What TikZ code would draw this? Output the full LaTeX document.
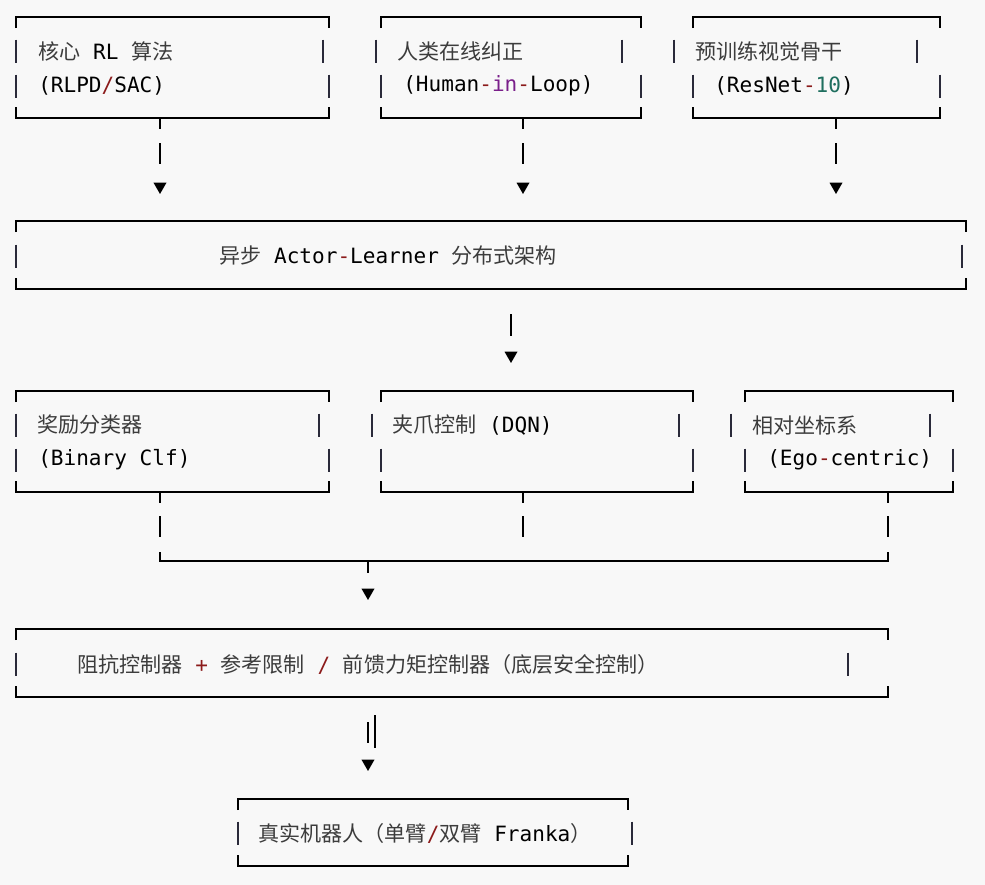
\documentclass[tikz,border=0pt]{standalone}
\usepackage{fontspec}
\setmonofont{DejaVu Sans Mono}
\newfontfamily\cjk{Noto Sans CJK SC}
\usetikzlibrary{arrows.meta,calc,fit}

\definecolor{paper}{HTML}{F8F8F8}
\definecolor{hanzi}{HTML}{3C3C3C}
\definecolor{opred}{HTML}{8B1A1A}
\definecolor{kwpurple}{HTML}{7A1F8A}
\definecolor{numteal}{HTML}{1F6F5F}
\definecolor{bar}{HTML}{2A2A3A}

\newcommand{\zh}[1]{{\cjk\color{hanzi}#1}}
\newcommand{\op}[1]{\textcolor{opred}{#1}}
\newcommand{\kw}[1]{\textcolor{kwpurple}{#1}}
\newcommand{\digits}[1]{\textcolor{numteal}{#1}}

% frame of an ascii box: top and bottom rule with short corner ticks
\newcommand{\asciiframe}[1]{%
  \draw[rim] ($(#1.north west)+(0,11)$) -- (#1.north west) -- (#1.north east) -- ($(#1.north east)+(0,11)$);
  \draw[rim] ($(#1.south west)+(0,-11)$) -- (#1.south west) -- (#1.south east) -- ($(#1.south east)+(0,-11)$);
}

\tikzset{
  area/.style={inner sep=0pt, outer sep=0pt},
  rim/.style={line width=1.6pt},
  side/.style={line width=1pt, draw=bar},
  txt/.style={anchor=west, inner sep=0pt, font=\fontsize{15.8}{19}\selectfont\ttfamily},
  tip/.style={-{Triangle[width=9.5pt,length=8.5pt]}},
  drop/.style={line width=1pt, tip, dash pattern=on 8.25pt off 10.5pt on 15.75pt off 60pt},
  stub/.style={line width=1pt, dash pattern=on 8.25pt off 9.75pt on 15.75pt off 60pt},
}

\begin{document}
\begin{tikzpicture}[x=0.75pt, y=-0.75pt]
  \fill[paper] (0,0) rectangle (985,885);
  \useasboundingbox (0,0) rectangle (985,885);

  % boxes
  \node[area, fit={(16,17) (329,118)}] (core) {};
  \node[area, fit={(381,17) (641,118)}] (human) {};
  \node[area, fit={(693,17) (940,118)}] (vision) {};
  \node[area, fit={(16,221) (966,289)}] (async) {};
  \node[area, fit={(16,391) (329,492)}] (reward) {};
  \node[area, fit={(381,391) (693,492)}] (grip) {};
  \node[area, fit={(745,391) (953,492)}] (ego) {};
  \node[area, fit={(16,629) (888,697)}] (lowctl) {};
  \node[area, fit={(238,799) (628,866)}] (robot) {};
  \asciiframe{core}
  \asciiframe{human}
  \asciiframe{vision}
  \asciiframe{async}
  \asciiframe{reward}
  \asciiframe{grip}
  \asciiframe{ego}
  \asciiframe{lowctl}
  \asciiframe{robot}

  % side bars of each text row
  \foreach \bx/\by in {16/51, 323/51, 16/86, 329/86,
                       376/51, 622/51, 381/86, 641/86,
                       674/51, 917/51, 693/86, 940/86,
                       16/256, 962/256,
                       16/425, 319/425, 16/460, 329/460,
                       372/425, 679/425, 381/460, 693/460,
                       731/425, 930/425, 745/460, 953/460,
                       16/664, 848/664,
                       238/833, 632/833}
    \draw[side] (\bx,\by-11.5) -- (\bx,\by+11.5);

  % labels
  \node[txt] (coreA) at (38,51) {\zh{核心} RL \zh{算法}};
  \node[txt] (coreB) at (38,86) {(RLPD\op{/}SAC)};
  \node[txt] (humanA) at (397,51) {\zh{人类在线纠正}};
  \node[txt] (humanB) at (403,86) {(Human\op{-}\kw{in}\op{-}Loop)};
  \node[txt] (visionA) at (695,51) {\zh{预训练视觉骨干}};
  \node[txt] (visionB) at (714,86) {(ResNet\op{-}\digits{10})};
  \node[txt] (asyncA) at (219,256) {\zh{异步} Actor\op{-}Learner \zh{分布式架构}};
  \node[txt] (rewardA) at (37,425) {\zh{奖励分类器}};
  \node[txt] (rewardB) at (38,460) {(Binary Clf)};
  \node[txt] (gripA) at (392,425) {\zh{夹爪控制} (DQN)};
  \node[txt] (egoA) at (752,425) {\zh{相对坐标系}};
  \node[txt] (egoB) at (767,460) {(Ego\op{-}centric)};
  \node[txt] (lowctlA) at (77,664) {\zh{阻抗控制器} \op{+} \zh{参考限制} \op{/} \zh{前馈力矩控制器（底层安全控制）}};
  \node[txt] (robotA) at (258,833) {\zh{真实机器人（单臂}\op{/}\zh{双臂} Franka\zh{）}};

  % top row into the distributed core
  \draw[drop, shorten >=20.25pt] (core.south -| 160,0) -- (async.north -| 160,0);
  \draw[drop, shorten >=20.25pt] (human.south -| 523,0) -- (async.north -| 523,0);
  \draw[drop, shorten >=20.25pt] (vision.south -| 836,0) -- (async.north -| 836,0);

  \draw[line width=1pt, tip, dash pattern=on 0pt off 18.75pt on 16.5pt off 60pt, shorten >=21pt]
    (async.south -| 511,0) -- (grip.north -| 511,0);

  % merge of the middle row
  \coordinate (busL) at (160,561);
  \coordinate (busR) at (888,561);
  \coordinate (bus) at (368,561);
  \draw[stub] (reward.south -| 160,0) -- ++(0,46);
  \draw[stub] (grip.south -| 523,0) -- ++(0,46);
  \draw[stub] (ego.south -| 888,0) -- ++(0,46);
  \draw[rim] ($(busL)+(0,-9)$) -- (busL) -- (busR) -- ($(busR)+(0,-9)$);
  \draw[line width=1pt, tip, dash pattern=on 9pt off 60pt, shorten >=21.75pt] (bus) -- (lowctl.north -| bus);

  % down to the robot
  \draw[line width=1pt, tip, dash pattern=on 0pt off 18.75pt on 15.75pt off 60pt, shorten >=21pt]
    (lowctl.south -| 368,0) -- (robot.north -| 368,0);
  \draw[line width=1.6pt] (375,715) -- (375,748);
\end{tikzpicture}
\end{document}
